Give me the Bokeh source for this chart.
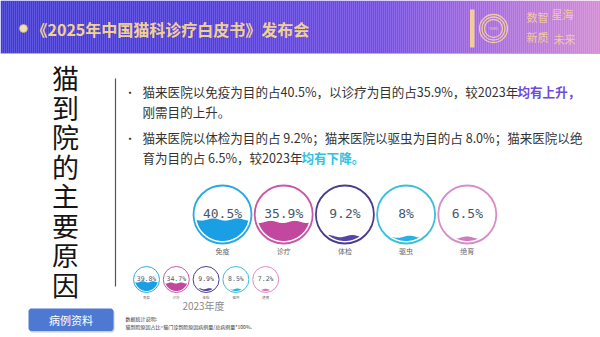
import numpy as np
from bokeh.plotting import figure
from bokeh.models import Range1d
from bokeh.core.properties import value
from bokeh.embed import file_html
from bokeh.resources import INLINE

# ---------------- data ----------------
categories = ["免疫", "诊疗", "体检", "驱虫", "绝育"]
values_2024 = [40.5, 35.9, 9.2, 8.0, 6.5]
values_2023 = [39.8, 34.7, 9.9, 8.5, 7.2]
ring_colors = ["#29a9e1", "#c956a9", "#4a3d8e", "#3bbfdc", "#d88dc8"]
fill_colors = ["#1a9fe4", "#c2479f", "#5546a4", "#27b3e2", "#cf7cbf"]
title_chars = list("猫到院的主要原因")
header_title = "《2025年中国猫科诊疗白皮书》发布会"
bullet_lines = [
    ("猫来医院以免疫为目的占40.5%，以诊疗为目的占35.9%，较2023年", "均有上升，", "#6a4bdc"),
    ("刚需目的上升。", "", None),
    ("猫来医院以体检为目的占 9.2%；猫来医院以驱虫为目的占 8.0%；猫来医院以绝", "", None),
    ("育为目的占 6.5%，较2023年", "均有下降。", "#2fc2e3"),
]
year_label = "2023年度"
note_lines = ["数据统计说明:", "猫到院原因占比=猫门诊到院原因病例量/总病例量*100%."]
button_label = "病例资料"


def pct(v):
    return f"{v:g}%"


W, H = 600, 337
p = figure(width=W, height=H, x_range=Range1d(0, W), y_range=Range1d(H, 0),
           output_backend="svg", toolbar_location=None,
           x_axis_type=None, y_axis_type=None, min_border=0,
           background_fill_color="white", border_fill_color="white")
p.outline_line_color = None
p.grid.visible = False

CJK = value("Noto Sans CJK SC")

# ---------------- header gradient ----------------
stops_x = [0, 200, 380, 480, 600]
stops_c = [(64, 56, 218), (80, 60, 226), (116, 76, 232), (165, 104, 228), (214, 140, 214)]
hx = np.arange(0, W, 2)
cols = []
for x0 in hx:
    r = np.interp(x0, stops_x, [c[0] for c in stops_c])
    g = np.interp(x0, stops_x, [c[1] for c in stops_c])
    b = np.interp(x0, stops_x, [c[2] for c in stops_c])
    cols.append("#%02x%02x%02x" % (int(r), int(g), int(b)))
p.quad(left=hx, right=hx + 2.2, top=0, bottom=53, fill_color=cols, line_color=None)
p.segment(x0=[0], y0=[53], x1=[W], y1=[53], line_color="#b7a6f2", line_width=1.2)

# title bullet & text
p.scatter(x=[23], y=[28], size=8, fill_color="#efe0b8", line_color="#c9a86a", line_width=0.8)
p.text(x=[31], y=[28.5], text=[header_title], text_font=CJK, text_font_size="16px",
       text_font_style="bold", text_color="#f1d28c", text_baseline="middle")

# logo "10"
p.quad(left=[469.5], right=[474], top=[9], bottom=[47], fill_color="#f2cc9c", line_color=None)
for rr in [14, 11.5, 9]:
    p.circle(x=[493], y=[28], radius=rr, fill_color=None, line_color="#f2cc9c", line_width=1.3)
p.text(x=[493], y=[28], text=["YEARS"], text_font=CJK, text_font_size="3px",
       text_color="#f2cc9c", text_align="center", text_baseline="middle")
p.text(x=[526, 551], y=[16, 13], text=["数智", "星海"], text_font=CJK, text_font_size="11px",
       text_color="#f2c99c", text_baseline="middle")
p.text(x=[526, 553], y=[36, 38], text=["新质", "未来"], text_font=CJK, text_font_size="11px",
       text_color="#f2c99c", text_baseline="middle")

# ---------------- left vertical title ----------------
ty = [77 + i * 29.5 for i in range(len(title_chars))]
p.text(x=[65] * len(title_chars), y=ty, text=title_chars, text_font=CJK,
       text_font_size="27px", text_color="#151515", text_align="center", text_baseline="middle")
p.segment(x0=[115], y0=[78], x1=[115], y1=[286], line_color="#555555", line_width=1.2)


# rounded button
def rounded(x0, y0, x1, y1, r, n=8):
    xs, ys = [], []
    corners = [(x1 - r, y0 + r, -np.pi / 2, 0), (x1 - r, y1 - r, 0, np.pi / 2),
               (x0 + r, y1 - r, np.pi / 2, np.pi), (x0 + r, y0 + r, np.pi, 1.5 * np.pi)]
    for cx, cy, a0, a1 in corners:
        t = np.linspace(a0, a1, n)
        xs += list(cx + r * np.cos(t))
        ys += list(cy + r * np.sin(t))
    return xs, ys


bx, by = rounded(29, 309.5, 114, 332, 3)
p.patch(bx, by, fill_color="#c9cfdc", line_color=None)
bx, by = rounded(28, 308, 113, 330.5, 3)
p.patch(bx, by, fill_color="#4d79d3", line_color=None)
p.text(x=[70.5], y=[319.5], text=[button_label], text_font=CJK, text_font_size="11px",
       text_color="white", text_align="center", text_baseline="middle")

# ---------------- bullet text ----------------
FS = "12.55px"
line_y = [91, 110.5, 137, 157]
for (plain, hl, hc), yy in zip(bullet_lines, line_y):
    p.text(x=[142], y=[yy], text=[plain], text_font=CJK, text_font_size=FS,
           text_color="#333333", text_baseline="middle")
for yy in [line_y[0], line_y[2]]:
    p.text(x=[124], y=[yy], text=["•"], text_font=CJK, text_font_size="11px",
           text_color="#333333", text_baseline="middle")
p.text(x=[517], y=[line_y[0]], text=[bullet_lines[0][1]], text_font=CJK, text_font_size=FS,
       text_color=bullet_lines[0][2], text_font_style="bold", text_baseline="middle")
p.text(x=[301], y=[line_y[3]], text=[bullet_lines[3][1]], text_font=CJK, text_font_size=FS,
       text_color=bullet_lines[3][2], text_font_style="bold", text_baseline="middle")


# ---------------- liquid-fill gauges ----------------
def liquid(cx, cy, r, frac, amp, phase, n=90):
    level = cy + r - 2 * r * frac
    xs = np.linspace(cx - r, cx + r, n)
    dx = xs - cx
    half = np.sqrt(np.maximum(r * r - dx * dx, 0))
    top, bot = cy - half, cy + half
    wave = level + amp * np.sin(dx / r * 2.2 * np.pi + phase)
    ytop = np.minimum(np.maximum(wave, top), bot)
    return list(xs) + list(xs[::-1]), list(ytop) + list(bot[::-1])


def gauges(vals, cxs, cy, r_out, r_in, lw, amp, font, label_dy, label_font):
    pxs, pys = [], []
    for i, v in enumerate(vals):
        xs, ys = liquid(cxs[i], cy, r_in, v / 100.0, amp, 0.8 + i)
        pxs.append(xs)
        pys.append(ys)
    p.patches(pxs, pys, fill_color=fill_colors, line_color=None)
    p.circle(x=cxs, y=[cy] * len(vals), radius=r_out, fill_color=None,
             line_color=ring_colors, line_width=lw)
    p.text(x=cxs, y=[cy - 1] * len(vals), text=[pct(v) for v in vals],
           text_font=value("DejaVu Sans Mono"), text_font_size=font, text_color="#46586e",
           text_align="center", text_baseline="middle")
    p.text(x=cxs, y=[cy + label_dy] * len(vals), text=categories, text_font=CJK,
           text_font_size=label_font, text_color="#666666", text_align="center",
           text_baseline="middle")


big_cx = [222 + 61.2 * i for i in range(5)]
gauges(values_2024, big_cx, 214, 29, 26.5, 1.8, 1.1, "13px", 36, "7px")

small_cx = [146 + 29.8 * i for i in range(5)]
gauges(values_2023, small_cx, 279, 13, 11.5, 1.0, 0.6, "6.5px", 18, "3.5px")

p.text(x=[203], y=[305], text=[year_label], text_font=CJK, text_font_size="10px",
       text_color="#8a8a8a", text_align="center", text_baseline="middle")
p.text(x=[125, 125], y=[318, 325.5], text=note_lines, text_font=CJK, text_font_size="5px",
       text_color="#333333", text_baseline="middle")

open("out.html", "w").write(file_html(p, INLINE))
